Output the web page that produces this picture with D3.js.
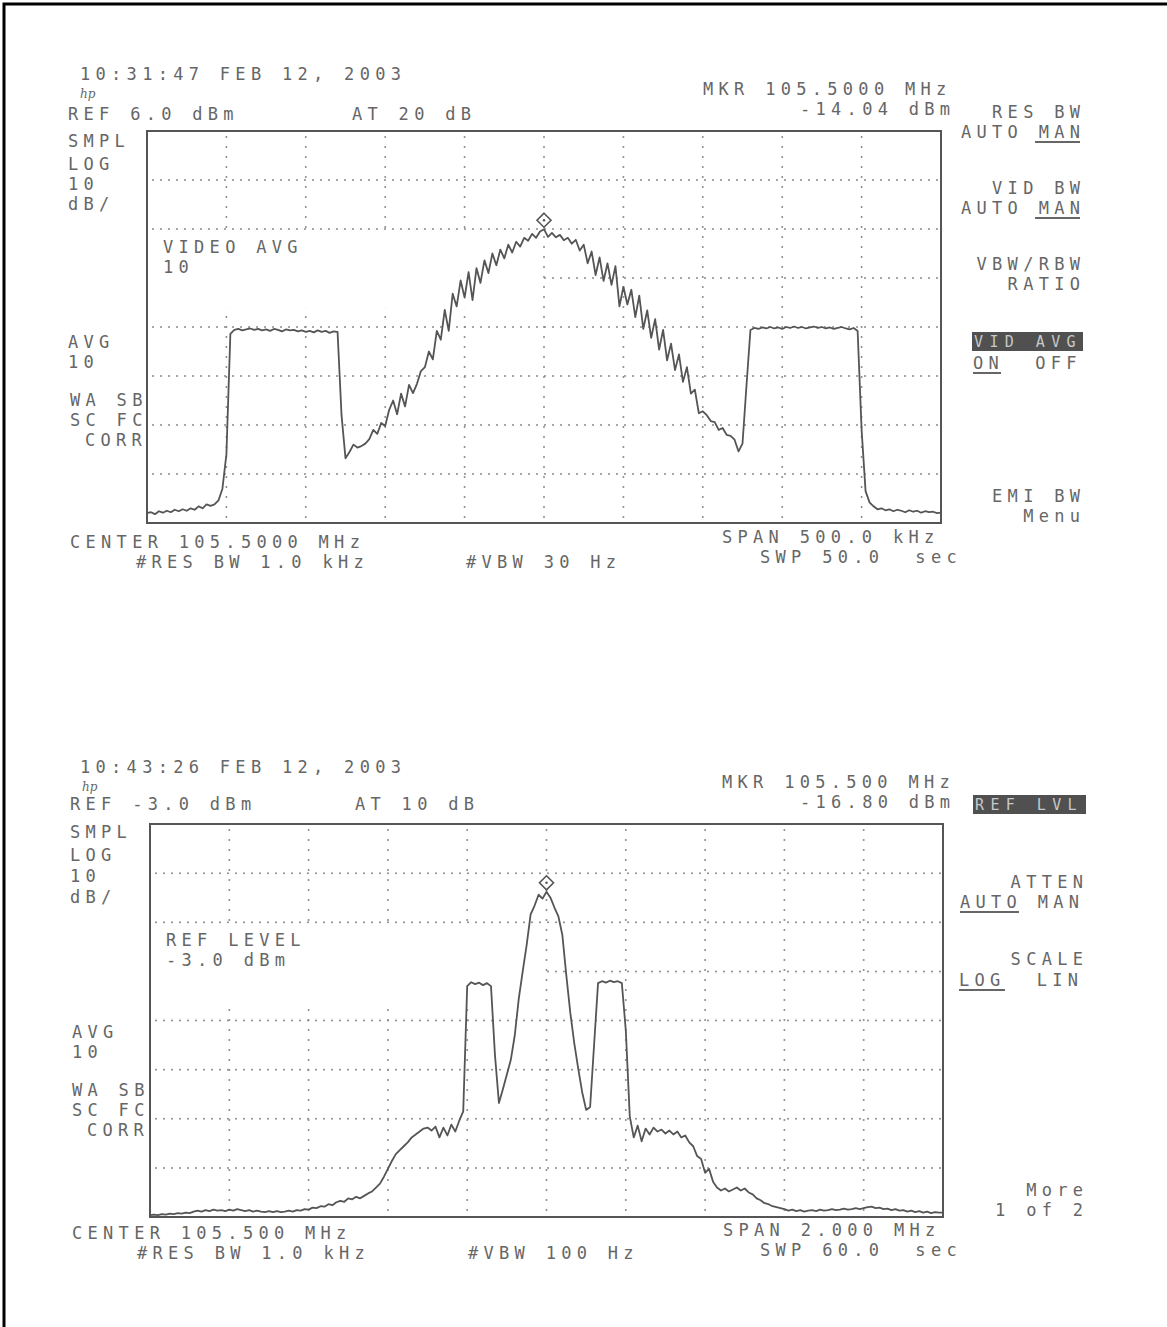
<!DOCTYPE html>
<html>
<head>
<meta charset="utf-8">
<script src="https://cdn.jsdelivr.net/npm/d3@7"></script>
<style>
  body { margin: 0; background: #fff; }
  svg text {
    font-family: "DejaVu Sans Mono", monospace;
    font-size: 17px;
    letter-spacing: 5.3px;
    fill: #666;
    white-space: pre;
  }
</style>
</head>
<body>
<div id="screens"></div>
<script>
// ---- sweep 1 : 10:31:47, span 500 kHz, levels (dBm)
const sweep1SpanKHz = 500;
const sweep1RefDbm = 6.0;
const sweep1MarkerDbm = -14.04;
const sweep1Levels = [
  -72.0,-71.8,-72.2,-71.6,-71.9,-71.5,-71.8,-71.3,-71.6,-71.2,
  -71.5,-71.0,-71.3,-70.6,-71.0,-70.2,-70.5,-70.2,-69.4,-67.0,
  -60.0,-35.4,-34.6,-34.4,-34.7,-34.5,-34.3,-34.6,-34.4,-34.7,
  -34.5,-34.8,-34.4,-34.6,-34.9,-34.5,-34.7,-34.6,-34.9,-34.7,
  -35.0,-34.8,-35.1,-34.7,-35.0,-34.8,-35.2,-34.9,-35.0,-52.0,
  -60.8,-59.5,-58.0,-58.6,-58.3,-57.8,-56.9,-55.0,-55.8,-53.6,
  -54.2,-50.9,-49.0,-51.8,-47.6,-50.2,-45.8,-47.5,-45.6,-43.0,
  -42.2,-39.0,-40.6,-34.8,-36.6,-30.5,-34.8,-27.2,-29.8,-24.5,
  -28.0,-22.8,-28.5,-22.0,-25.0,-20.4,-23.0,-19.0,-21.4,-18.2,
  -20.0,-17.2,-18.8,-16.6,-17.6,-15.8,-16.4,-15.0,-15.8,-14.5,
  -14.04,-15.6,-14.8,-15.7,-15.2,-16.3,-15.8,-17.0,-16.2,-18.4,
  -17.2,-21.0,-18.6,-23.4,-19.8,-24.6,-21.0,-25.4,-21.6,-29.8,
  -25.8,-29.4,-26.4,-32.0,-27.6,-34.4,-30.6,-36.2,-32.4,-38.6,
  -34.6,-40.8,-37.4,-42.8,-39.6,-45.2,-42.2,-47.6,-46.8,-51.6,
  -51.2,-52.0,-53.2,-53.4,-55.0,-54.6,-56.0,-56.2,-57.0,-59.4,
  -57.8,-46.0,-34.6,-34.2,-34.4,-34.1,-34.3,-34.0,-34.3,-34.1,
  -34.4,-34.0,-34.2,-33.9,-34.2,-34.0,-34.3,-34.1,-33.9,-34.2,
  -34.0,-34.3,-34.1,-34.4,-34.2,-34.0,-34.3,-34.5,-34.2,-34.8,
  -55.0,-67.5,-69.8,-70.6,-71.2,-71.0,-71.4,-71.2,-71.6,-71.3,
  -71.5,-71.8,-71.4,-71.7,-71.5,-71.9,-71.6,-71.8,-71.7,-72.0,
  -71.9
];

// ---- sweep 2 : 10:43:26, span 2 MHz (dBm)
const sweep2SpanKHz = 2000;
const sweep2RefDbm = -3.0;
const sweep2MarkerDbm = -16.80;
const sweep2Levels = [
  -82.6,-82.5,-82.6,-82.4,-82.5,-82.3,-82.4,-82.2,-82.3,-82.1,
  -82.2,-81.9,-81.7,-81.9,-81.6,-81.8,-81.5,-81.7,-81.6,-81.8,
  -81.5,-81.7,-81.4,-81.6,-81.8,-81.6,-81.9,-81.7,-81.9,-82.0,
  -81.8,-82.0,-81.8,-82.0,-81.9,-81.7,-81.9,-81.6,-81.7,-81.4,
  -81.5,-81.1,-81.2,-80.8,-80.9,-80.4,-80.6,-80.0,-79.7,-79.9,
  -79.2,-79.4,-78.9,-79.2,-78.7,-78.2,-77.8,-77.0,-76.2,-74.8,
  -73.2,-71.6,-70.2,-69.4,-68.6,-67.8,-66.8,-66.2,-65.6,-65.0,
  -64.8,-65.4,-64.6,-66.8,-64.8,-66.4,-64.2,-65.6,-63.4,-61.5,
  -36.0,-35.2,-35.6,-35.3,-35.8,-35.4,-36.0,-50.0,-59.8,-57.0,
  -54.0,-51.0,-46.0,-38.6,-33.0,-27.6,-21.4,-19.6,-17.4,-18.2,
  -16.8,-18.0,-20.0,-21.8,-25.6,-33.8,-41.4,-47.6,-52.8,-57.6,
  -61.2,-60.6,-48.0,-35.4,-35.0,-35.3,-34.9,-35.2,-35.0,-35.4,
  -45.0,-62.5,-66.8,-64.4,-67.6,-65.0,-66.2,-64.8,-65.6,-65.2,
  -66.0,-65.4,-66.2,-65.6,-66.8,-66.4,-67.8,-68.6,-70.6,-71.2,
  -74.0,-73.2,-75.8,-77.0,-77.6,-77.2,-77.8,-77.4,-77.0,-77.6,
  -77.2,-78.0,-78.4,-79.2,-79.6,-80.2,-80.4,-80.8,-81.0,-81.2,
  -81.4,-81.7,-81.5,-81.8,-81.6,-81.9,-81.7,-81.6,-81.8,-81.5,
  -81.7,-81.6,-81.4,-81.6,-81.5,-81.3,-81.5,-81.4,-81.2,-81.4,
  -81.2,-81.0,-80.9,-81.2,-81.1,-81.4,-81.3,-81.6,-81.4,-81.7,
  -81.6,-81.9,-81.7,-82.0,-81.8,-82.1,-81.9,-82.2,-82.0,-82.1,
  -82.1
];

const dbPerDiv = 10;
const traceColor = '#555';
const gridColor = '#8a8a8a';
const ls = 5.3; // letter spacing, used to right align

const svg = d3.select('#screens').append('svg')
  .attr('width', 1167)
  .attr('height', 1327);

// edge of the scanned page
svg.append('path')
  .attr('d', 'M4,1327V4H1167')
  .attr('fill', 'none')
  .attr('stroke', '#000')
  .attr('stroke-width', 3);

function label(t, x, y) {
  return svg.append('text').attr('x', x).attr('y', y).text(t);
}
function labelRight(t, right, y) {
  return svg.append('text').attr('x', right + ls).attr('y', y)
    .attr('text-anchor', 'end').text(t);
}
function underline(x1, x2, y) {
  svg.append('line').attr('x1', x1).attr('x2', x2).attr('y1', y).attr('y2', y)
    .attr('stroke', '#666').attr('stroke-width', 2);
}
function softKeyLit(t, x, y, w) {
  svg.append('rect').attr('x', x).attr('y', y).attr('width', w).attr('height', 19)
    .attr('fill', '#505050');
  svg.append('text').attr('x', x + 2).attr('y', y + 15).text(t)
    .style('fill', '#c8c8c8').style('font-size', '15px').style('letter-spacing', '6.4px');
}
function hpLogo(x, y) {
  svg.append('text').attr('x', x).attr('y', y).text('hp')
    .style('font-family', 'DejaVu Serif').style('font-style', 'italic')
    .style('font-size', '12px').style('letter-spacing', '0px');
}

function drawScreen(box, levels, spanKHz, refDbm, markerDbm) {
  const x = d3.scaleLinear().domain([-spanKHz / 2, spanKHz / 2]).range([box.left, box.right]);
  const y = d3.scaleLinear().domain([refDbm - 8 * dbPerDiv, refDbm]).range([box.bottom, box.top]);

  const g = svg.append('g');

  // graticule, dotted
  const vLines = x.ticks(10).slice(1, -1);
  const hLines = d3.range(1, 8).map(k => refDbm - k * dbPerDiv);

  g.selectAll('.vgrid').data(vLines).enter().append('line')
    .attr('x1', d => x(d)).attr('x2', d => x(d))
    .attr('y1', box.top + 6).attr('y2', box.bottom)
    .attr('stroke', gridColor).attr('stroke-width', 2)
    .attr('stroke-linecap', 'round').attr('stroke-dasharray', '0,10');

  g.selectAll('.hgrid').data(hLines).enter().append('line')
    .attr('x1', box.left + 6).attr('x2', box.right)
    .attr('y1', d => y(d)).attr('y2', d => y(d))
    .attr('stroke', gridColor).attr('stroke-width', 2)
    .attr('stroke-linecap', 'round').attr('stroke-dasharray', '0,8');

  // annotation window blanks the graticule
  g.append('rect')
    .attr('x', box.left + 3)
    .attr('y', y(refDbm - 20.8))
    .attr('width', x(0) - 6 - box.left)
    .attr('height', y(refDbm - 36.1) - y(refDbm - 20.8))
    .attr('fill', '#fff');

  // frame
  g.append('rect')
    .attr('x', box.left).attr('y', box.top)
    .attr('width', box.right - box.left).attr('height', box.bottom - box.top)
    .attr('fill', 'none').attr('stroke', '#555').attr('stroke-width', 2);

  // trace
  const step = spanKHz / (levels.length - 1);
  const line = d3.line()
    .x((d, i) => x(-spanKHz / 2 + i * step))
    .y(d => y(d));
  g.append('path').datum(levels)
    .attr('d', line)
    .attr('fill', 'none')
    .attr('stroke', traceColor)
    .attr('stroke-width', 1.8)
    .attr('stroke-linejoin', 'round');

  // marker diamond, sits just above the trace point
  const mx = x(0), my = y(markerDbm) - 9, r = 7;
  g.append('path')
    .attr('d', `M${mx},${my - r}L${mx + r},${my}L${mx},${my + r}L${mx - r},${my}Z`)
    .attr('fill', '#fff').attr('stroke', '#555').attr('stroke-width', 1.6);
  g.append('circle').attr('cx', mx).attr('cy', my).attr('r', 1.2).attr('fill', '#555');
}

// ---------- screen 1
drawScreen({left: 147, right: 941, top: 131, bottom: 523},
  sweep1Levels, sweep1SpanKHz, sweep1RefDbm, sweep1MarkerDbm);

label('10:31:47 FEB 12, 2003', 80, 80);
hpLogo(80, 98);
label('REF 6.0 dBm', 68, 120);
label('AT 20 dB', 352, 120);
label('MKR 105.5000 MHz', 703, 95);
label('-14.04 dBm', 800, 115);
label('SMPL', 68, 147);
label('LOG', 68, 170);
label('10', 68, 190);
label('dB/', 68, 210);
label('VIDEO AVG', 163, 253);
label('10', 163, 273);
label('AVG', 68, 348);
label('10', 68, 368);
label('WA SB', 70, 406);
label('SC FC', 70, 426);
label('CORR', 85, 446);
label('CENTER 105.5000 MHz', 70, 548);
label('#RES BW 1.0 kHz', 136, 568);
label('#VBW 30 Hz', 466, 568);
label('SPAN 500.0 kHz', 722, 543);
label('SWP 50.0  sec', 760, 563);

labelRight('RES BW', 1080, 118);
labelRight('AUTO MAN', 1080, 138);
underline(1035, 1080, 142);
labelRight('VID BW', 1080, 194);
labelRight('AUTO MAN', 1080, 214);
underline(1035, 1080, 218);
labelRight('VBW/RBW', 1080, 270);
labelRight('RATIO', 1080, 290);
softKeyLit('VID AVG', 972, 332, 111);
label('ON  OFF', 973, 369);
underline(973, 1001, 373);
labelRight('EMI BW', 1080, 502);
labelRight('Menu', 1080, 522);

// ---------- screen 2
drawScreen({left: 150, right: 943, top: 824, bottom: 1217},
  sweep2Levels, sweep2SpanKHz, sweep2RefDbm, sweep2MarkerDbm);

label('10:43:26 FEB 12, 2003', 80, 773);
hpLogo(82, 791);
label('REF -3.0 dBm', 70, 810);
label('AT 10 dB', 355, 810);
label('MKR 105.500 MHz', 722, 788);
label('-16.80 dBm', 800, 808);
softKeyLit('REF LVL', 973, 795, 113);
label('SMPL', 70, 838);
label('LOG', 70, 861);
label('10', 70, 882);
label('dB/', 70, 903);
label('REF LEVEL', 166, 946);
label('-3.0 dBm', 166, 966);
label('AVG', 72, 1038);
label('10', 72, 1058);
label('WA SB', 72, 1096);
label('SC FC', 72, 1116);
label('CORR', 87, 1136);
label('CENTER 105.500 MHz', 72, 1239);
label('#RES BW 1.0 kHz', 137, 1259);
label('#VBW 100 Hz', 468, 1259);
label('SPAN 2.000 MHz', 723, 1236);
label('SWP 60.0  sec', 760, 1256);

labelRight('ATTEN', 1083, 888);
label('AUTO MAN', 960, 908);
underline(960, 1019, 912);
labelRight('SCALE', 1083, 965);
label('LOG  LIN', 959, 986);
underline(959, 1005, 990);
labelRight('More', 1083, 1196);
labelRight('1 of 2', 1083, 1216);
</script>
</body>
</html>
